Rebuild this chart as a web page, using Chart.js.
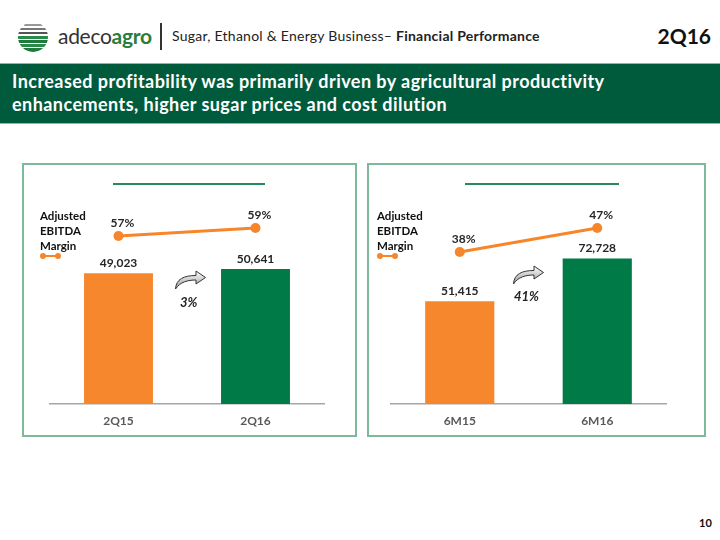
<!DOCTYPE html>
<html>
<head>
<meta charset="utf-8">
<script src="https://cdn.jsdelivr.net/npm/chart.js@4/dist/chart.umd.min.js"></script>
<style>
  body { margin:0; width:720px; height:540px; position:relative; background:#fff; font-family:Lato, "Open Sans", sans-serif; overflow:hidden; }
  .abs { position:absolute; }
  #banner { left:0; top:63px; width:720px; height:61px; background:#005b3c; border-top:1px solid #8fb0c8; border-bottom:1px solid #8fb0c8; box-sizing:border-box; }
  #banner div { position:absolute; left:12px; top:6px; color:#fff; font-weight:bold; font-size:18px; letter-spacing:0.45px; line-height:23px; }
  .panel { top:163px; height:274px; border:2px solid #7db99a; box-sizing:border-box; }
  .titleLine { height:2px; background:#2a8a5e; top:183px; }
  .legend { font-size:11.5px; font-weight:bold; color:#111; line-height:15px; }
  .pct { font-size:13px; font-weight:bold; font-style:italic; color:#222; }
</style>
</head>
<body>

<!-- header -->
<svg class="abs" style="left:16px;top:20px" width="34" height="34" viewBox="0 0 34 34">
  <defs><clipPath id="c"><circle cx="17" cy="17" r="15"/></clipPath></defs>
  <g clip-path="url(#c)">
    <rect x="0" y="0" width="34" height="34" fill="#fff"/>
    <rect x="8" y="4" width="20" height="2" fill="#999"/>
    <rect x="4" y="8" width="26" height="2" fill="#777"/>
    <rect x="2" y="12" width="30" height="2" fill="#555"/>
    <rect x="2" y="16" width="30" height="3" fill="#2b8a4a"/>
    <rect x="2" y="20" width="30" height="3" fill="#1f7a3c"/>
    <rect x="2" y="24" width="30" height="3" fill="#2b8a4a"/>
    <rect x="2" y="28" width="30" height="4" fill="#1f7a3c"/>
  </g>
</svg>
<div class="abs" style="left:58px;top:23px;font-size:21px;color:#333;letter-spacing:-0.3px">adeco<span style="color:#2a7d3a;font-weight:bold">agro</span></div>
<div class="abs" style="left:160px;top:23px;width:2px;height:27px;background:#333"></div>
<div class="abs" style="left:172px;top:27px;font-size:14px;letter-spacing:0.25px;color:#222">Sugar, Ethanol &amp; Energy Business– <b>Financial Performance</b></div>
<div class="abs" style="right:9px;top:23px;font-size:21px;font-weight:bold;color:#111">2Q16</div>

<div id="banner" class="abs"><div>Increased profitability was primarily driven by agricultural productivity<br>enhancements, higher sugar prices and cost dilution</div></div>

<!-- panels -->
<div class="abs panel" style="left:22px;width:335px"></div>
<div class="abs panel" style="left:367px;width:339px"></div>
<div class="abs titleLine" style="left:113px;width:152px"></div>
<div class="abs titleLine" style="left:465px;width:154px"></div>

<canvas id="c1" class="abs" style="left:23px;top:164px" width="332" height="272"></canvas>
<canvas id="c2" class="abs" style="left:368px;top:164px" width="336" height="272"></canvas>

<div class="abs legend" style="left:40px;top:208px">Adjusted<br>EBITDA<br>Margin</div>
<div class="abs legend" style="left:377px;top:208px">Adjusted<br>EBITDA<br>Margin</div>
<svg class="abs" style="left:38px;top:251px" width="26" height="10"><line x1="5" y1="5" x2="20" y2="5" stroke="#f7862b" stroke-width="2"/><circle cx="5" cy="5" r="3" fill="#f7862b"/><circle cx="20" cy="5" r="3" fill="#f7862b"/></svg>
<svg class="abs" style="left:375px;top:251px" width="26" height="10"><line x1="5" y1="5" x2="20" y2="5" stroke="#f7862b" stroke-width="2"/><circle cx="5" cy="5" r="3" fill="#f7862b"/><circle cx="20" cy="5" r="3" fill="#f7862b"/></svg>

<svg class="abs" style="left:174px;top:270px" width="33" height="20" viewBox="0 0 33 20">
  <defs><linearGradient id="g1" x1="0" y1="0" x2="0" y2="1"><stop offset="0" stop-color="#fff"/><stop offset="1" stop-color="#999"/></linearGradient></defs>
  <path d="M1.5 19 C2 9 10 5.5 22 5.5 L22 1 L31.5 7.5 L22 14 L22 10 C14 10 6 12 1.5 19 Z" fill="url(#g1)" stroke="#333" stroke-width="1"/>
</svg>
<div class="abs pct" style="left:180px;top:294px">3%</div>
<svg class="abs" style="left:512px;top:265px" width="33" height="20" viewBox="0 0 33 20">
  <path d="M1.5 19 C2 9 10 5.5 22 5.5 L22 1 L31.5 7.5 L22 14 L22 10 C14 10 6 12 1.5 19 Z" fill="url(#g1)" stroke="#333" stroke-width="1"/>
</svg>
<div class="abs pct" style="left:514px;top:288px">41%</div>

<div class="abs" style="left:699px;top:516px;font-size:11px;font-weight:bold;color:#111">10</div>

<script>
// data
var periodsQ = ['2Q15', '2Q16'];
var ebitdaQ = [49023, 50641];
var marginQ = [57, 59];

var periodsH = ['6M15', '6M16'];
var ebitdaH = [51415, 72728];
var marginH = [38, 47];

var barColors = ['#f6872c', '#007a47'];
var orange = '#f7862b';

var labelPlugin = {
  id: 'vals',
  afterDatasetsDraw: function(chart) {
    var ctx = chart.ctx;
    ctx.save();
    ctx.font = 'bold 12px Lato, "Open Sans", sans-serif';
    ctx.fillStyle = '#262626';
    ctx.textAlign = 'center';
    ctx.textBaseline = 'bottom';
    var bars = chart.getDatasetMeta(0);
    bars.data.forEach(function(el, i) {
      ctx.fillText(chart.data.datasets[0].data[i].toLocaleString('en-US'), el.x, el.y - 4);
    });
    var pts = chart.getDatasetMeta(1);
    pts.data.forEach(function(el, i) {
      ctx.fillText(chart.data.datasets[1].data[i] + '%', el.x + 4, el.y - 7);
    });
    ctx.restore();
  }
};

function makeChart(id, labels, bars, margins, yMax, y2Min, y2Max, padL, padR) {
  return new Chart(document.getElementById(id), {
    type: 'bar',
    data: {
      labels: labels,
      datasets: [{
        type: 'bar',
        data: bars,
        backgroundColor: barColors,
        categoryPercentage: 1,
        barPercentage: 0.503,
        order: 1
      }, {
        type: 'line',
        data: margins,
        yAxisID: 'y2',
        borderColor: orange,
        backgroundColor: orange,
        borderWidth: 3,
        pointRadius: 5,
        pointBackgroundColor: orange,
        pointBorderWidth: 0,
        order: 0
      }]
    },
    options: {
      responsive: false,
      animation: false,
      layout: { padding: { left: padL, right: padR, top: 40, bottom: 0 } },
      plugins: { legend: { display: false }, tooltip: { enabled: false } },
      scales: {
        x: {
          grid: { display: false, drawTicks: false },
          border: { display: true, color: '#a6a6a6', width: 1.5 },
          ticks: { color: '#595959', font: { size: 12, weight: 'bold', family: 'Lato' }, padding: 10 },
          afterFit: function(axis) { axis.height = 32; }
        },
        y: { display: false, min: 0, max: yMax },
        y2: { display: false, min: y2Min, max: y2Max }
      }
    },
    plugins: [labelPlugin]
  });
}

makeChart('c1', periodsQ, ebitdaQ, marginQ, 75000, 15, 65, 27, 31);
makeChart('c2', periodsH, ebitdaH, marginH, 100000, -19, 56, 23, 38);
</script>
</body>
</html>
